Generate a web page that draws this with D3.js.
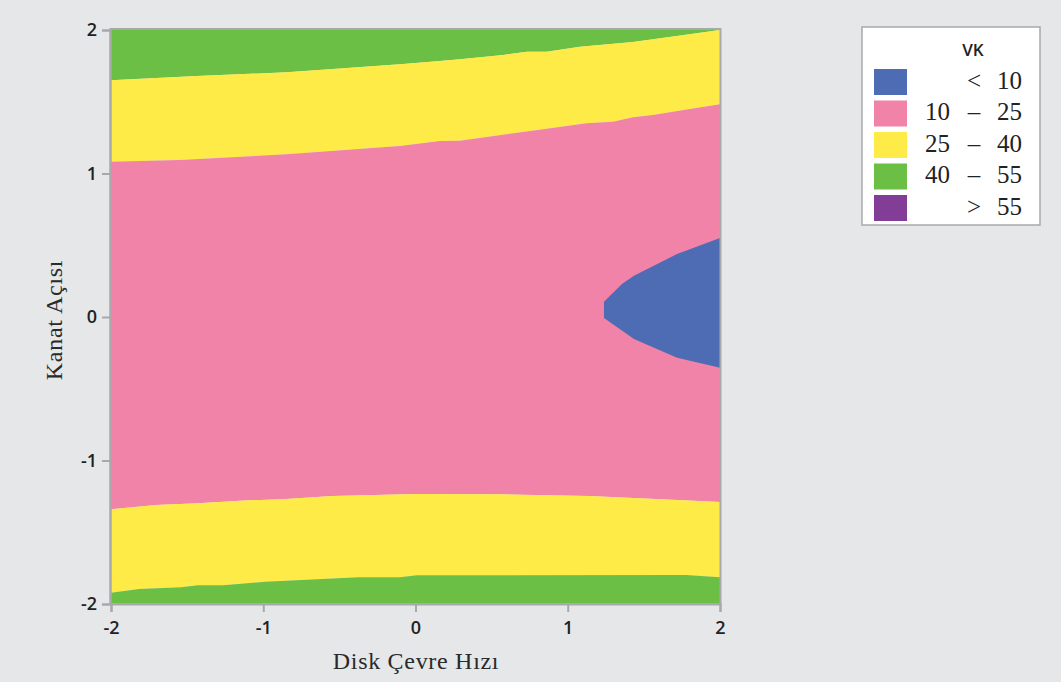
<!DOCTYPE html>
<html>
<head>
<meta charset="utf-8">
<script src="https://cdn.jsdelivr.net/npm/d3@7"></script>
<style>
  html, body { margin: 0; padding: 0; background: #e6e7e9; }
  svg { display: block; }
</style>
</head>
<body>
<svg id="chart" width="1061" height="682"></svg>
<script>
// Contour lines of VK over (Disk Çevre Hızı, Kanat Açısı), as [x, y] pairs
const upper40 = [[-2,1.649],[-1.437,1.679],[-0.846,1.705],[-0.542,1.728],[-0.102,1.761],[0.161,1.784],[0.292,1.796],[0.575,1.826],[0.730,1.849],[0.862,1.849],[1.080,1.884],[1.429,1.916],[1.716,1.958],[2,2.0]];
const upper25 = [[-2,1.082],[-1.547,1.094],[-0.846,1.134],[-0.102,1.192],[0.161,1.226],[0.292,1.229],[0.862,1.312],[1.124,1.350],[1.297,1.361],[1.429,1.392],[1.560,1.408],[1.691,1.431],[2,1.482]];
const lower25 = [[-2,-1.340],[-1.706,-1.310],[-1.430,-1.298],[-1.153,-1.280],[-0.851,-1.268],[-0.545,-1.247],[0.008,-1.233],[0.561,-1.236],[1.140,-1.247],[1.722,-1.275],[2,-1.289]];
const lower40 = [[-2,-1.921],[-1.816,-1.895],[-1.540,-1.884],[-1.430,-1.870],[-1.264,-1.870],[-0.989,-1.845],[-0.545,-1.823],[-0.379,-1.814],[-0.102,-1.814],[0.008,-1.800],[1.777,-1.798],[2,-1.814]];
const contour10 = [[2,0.551],[1.718,0.439],[1.435,0.288],[1.356,0.230],[1.238,0.107],[1.238,-0.007],[1.435,-0.153],[1.718,-0.284],[2,-0.353]];

const xTicks = [-2, -1, 0, 1, 2];
const yTicks = [-2, -1, 0, 1, 2];

const legendTitle = "VK";
const legendLow  = ["", "10", "25", "40", ""];
const legendOp   = ["<", "–", "–", "–", ">"];
const legendHigh = ["10", "25", "40", "55", "55"];
const bandColors = ["#4e6cb4", "#f182a8", "#ffeb48", "#6cbf45", "#823d96"];

const xTitle = "Disk Çevre Hızı";
const yTitle = "Kanat Açısı";

const svg = d3.select("#chart");
const x = d3.scaleLinear().domain([-2, 2]).range([111, 720]);
const y = d3.scaleLinear().domain([-2, 2]).range([604, 30]);

const line = d3.line().x(d => x(d[0])).y(d => y(d[1]));
const [xmin, xmax] = x.domain();
const [ymin, ymax] = y.domain();

// polygon between two contour lines (lower one forward, upper one reversed)
function band(lo, hi) {
  return line(lo.concat(hi.slice().reverse())) + "Z";
}
const topEdge = [[xmin, ymax], [xmax, ymax]];
const bottomEdge = [[xmin, ymin], [xmax, ymin]];

const plot = svg.append("g");
plot.append("path").attr("d", band(upper40, topEdge)).attr("fill", bandColors[3]);
plot.append("path").attr("d", band(upper25, upper40)).attr("fill", bandColors[2]);
plot.append("path").attr("d", band(lower25, upper25)).attr("fill", bandColors[1]);
plot.append("path").attr("d", band(lower40, lower25)).attr("fill", bandColors[2]);
plot.append("path").attr("d", band(bottomEdge, lower40)).attr("fill", bandColors[3]);
plot.append("path").attr("d", line(contour10) + "Z").attr("fill", bandColors[0]);

// frame
svg.append("rect")
  .attr("x", x(xmin) - 0.5).attr("y", y(ymax) - 1)
  .attr("width", x(xmax) - x(xmin) + 1).attr("height", y(ymin) - y(ymax) + 1)
  .attr("fill", "none").attr("stroke", "#a8a9ab").attr("stroke-width", 2);

// axes
const fmt = d => String(d);
const xAxis = d3.axisBottom(x).tickValues(xTicks).tickSize(8).tickPadding(6).tickFormat(fmt);
const yAxis = d3.axisLeft(y).tickValues(yTicks).tickSize(8).tickPadding(5).tickFormat(fmt);

const gx = svg.append("g").attr("transform", `translate(0,${y(ymin)})`).call(xAxis);
const gy = svg.append("g").attr("transform", `translate(${x(xmin) - 1},0)`).call(yAxis);
[gx, gy].forEach(g => {
  g.select(".domain").attr("stroke", "#a8a9ab").attr("stroke-width", 2);
  g.selectAll(".tick line").attr("stroke", "#a8a9ab").attr("stroke-width", 2);
  g.selectAll(".tick text")
    .attr("fill", "#222")
    .style("font-family", "'Open Sans', 'Noto Sans', sans-serif")
    .style("font-size", "18px")
    .style("font-weight", "600");
});
gx.selectAll(".tick text").attr("dy", "0.9em");

// axis titles
const titleStyle = sel => sel
  .attr("text-anchor", "middle")
  .style("font-family", "'Liberation Serif', 'DejaVu Serif', serif")
  .style("font-size", "24px")
  .style("letter-spacing", "0.7px")
  .attr("fill", "#2a2a2a");
svg.append("text").attr("x", 416).attr("y", 669).call(titleStyle).text(xTitle);
svg.append("text").attr("transform", "translate(62,320) rotate(-90)").call(titleStyle).text(yTitle);

// legend
const lg = svg.append("g");
lg.append("rect")
  .attr("x", 862).attr("y", 27).attr("width", 178).attr("height", 198)
  .attr("fill", "#fff").attr("stroke", "#a8a9ab").attr("stroke-width", 1.5);
lg.append("text")
  .attr("x", 973).attr("y", 56).attr("text-anchor", "middle")
  .style("font-family", "'Open Sans', 'Noto Sans', sans-serif")
  .style("font-size", "17px").style("font-weight", "600")
  .attr("fill", "#222")
  .text(legendTitle);

const rowTop = d3.scaleLinear().domain([0, 1]).range([69, 100.5]);
const serifStyle = sel => sel
  .style("font-family", "'Liberation Serif', 'DejaVu Serif', serif")
  .style("font-size", "25px").attr("fill", "#222");

legendHigh.forEach((hi, i) => {
  const top = rowTop(i);
  lg.append("rect").attr("x", 874).attr("y", top).attr("width", 33).attr("height", 26)
    .attr("fill", bandColors[i]);
  const base = top + 19.5;
  if (legendLow[i]) lg.append("text").attr("x", 950).attr("y", base).attr("text-anchor", "end").call(serifStyle).text(legendLow[i]);
  lg.append("text").attr("x", 974).attr("y", base).attr("text-anchor", "middle").call(serifStyle).text(legendOp[i]);
  lg.append("text").attr("x", 1022).attr("y", base).attr("text-anchor", "end").call(serifStyle).text(hi);
});
</script>
</body>
</html>
